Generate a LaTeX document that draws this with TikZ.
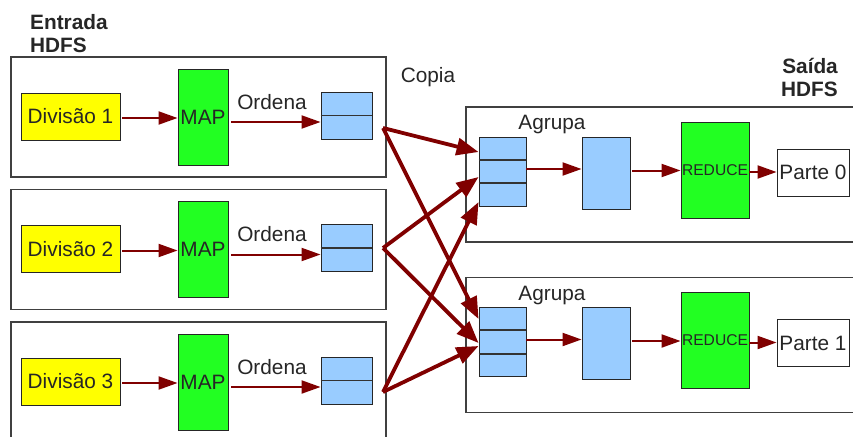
\documentclass[tikz,border=0pt]{standalone}
\usepackage{fontspec}
\setmainfont{Liberation Sans}
\usetikzlibrary{arrows.meta,positioning,calc}
\definecolor{Seta}{RGB}{128,0,0}
\definecolor{Amarelo}{RGB}{255,255,0}
\definecolor{Verde}{RGB}{34,255,34}
\definecolor{Azul}{RGB}{153,204,255}
\definecolor{Texto}{RGB}{38,38,38}
\tikzset{
  caixa/.style={draw=black!85,line width=0.9pt,inner sep=0pt,align=center,text=Texto},
  divisao/.style={caixa,fill=Amarelo,minimum width=99pt,minimum height=47pt},
  mapa/.style={caixa,fill=Verde,minimum width=50pt,minimum height=96pt},
  fila/.style={caixa,fill=Azul,minimum width=51pt,minimum height=47pt},
  grupo/.style={caixa,fill=Azul,minimum width=48pt,minimum height=72pt},
  reduz/.style={caixa,fill=Verde,minimum width=68pt,minimum height=96pt,font=\fontsize{15.6}{18}\selectfont},
  parte/.style={caixa,fill=white,minimum width=72pt,minimum height=47pt},
  divisor/.style={draw=black!80,line width=1.8pt},
  conjunto/.style={draw=black!75,line width=1.2pt},
  rotulo/.style={inner sep=0pt,text=Texto},
  titulo/.style={inner sep=0pt,text=Texto,font=\fontsize{20.8}{23}\selectfont\bfseries},
  seta/.style={-{Triangle[length=19pt,width=13pt]},Seta,line width=2pt},
  copia/.style={-{Triangle[length=22pt,width=17pt]},Seta,line width=3.8pt},
}

\begin{document}
\begin{tikzpicture}[x=1pt,y=-1pt,font=\fontsize{20.8}{23}\selectfont]
			\useasboundingbox (0,0) rectangle (853,436);
			\clip (0,0) rectangle (853,436);
			% Títulos
			\node[titulo,anchor=north west,align=left] (entrada) at (30,14.5) {Entrada\\HDFS};
			\node[titulo,anchor=north east,align=right] (saida) at (838,58.5) {Saída\\HDFS};
			\node[rotulo] (copia) at (428,77.5) {Copia};
			% Mapeadores
			\foreach \i/\y/\s in {1/117/128,2/249.5/248,3/382/392} {
					\draw[conjunto] (11,\y-60) rectangle (386,\y+60);
					\node[divisao] (div\i) at (70.5,\y-0.5) {Divisão \i};
					\node[mapa] (map\i) at (203,\y) {MAP};
					\node[fila] (buf\i) at (346.5,\y-1.5) {};
					\draw[divisor] (buf\i.west) -- (buf\i.east);
					\node[rotulo] (ord\i) at (272,\y-15) {Ordena};
					\draw[seta,shorten <=2pt] ([yshift=-1.5pt]div\i.east) -- ([yshift=-1.5pt]div\i.east -| map\i.west);
					\draw[seta,shorten <=3pt] ([yshift=-5pt]map\i.east) -- ([yshift=-5pt]map\i.east -| buf\i.west);
					\coordinate (sai\i) at (383,\s);
				}
			% Redutores
			\foreach \i/\y in {1/171.5,2/342} {
					\draw[conjunto] (466,\y-64.5) rectangle (870,\y+70.5);
					\node[fila,minimum width=47pt,minimum height=69pt] (rbuf\i) at (502.5,\y) {};
					\draw[divisor] ($(rbuf\i.north west)!1/3!(rbuf\i.south west)$) -- ($(rbuf\i.north east)!1/3!(rbuf\i.south east)$);
					\draw[divisor] ($(rbuf\i.north west)!2/3!(rbuf\i.south west)$) -- ($(rbuf\i.north east)!2/3!(rbuf\i.south east)$);
					\node[rotulo] (agr\i) at (552,\y-46.5) {Agrupa};
					\node[grupo] (grp\i) at (606,\y+1.5) {};
					\node[reduz] (red\i) at (715,\y-1.5) {REDUCE};
					\node[parte] (out\i) at (813,\y+1) {Parte \the\numexpr\i-1\relax};
					\draw[seta] ([yshift=2.5pt]rbuf\i.east) -- ([yshift=2.5pt]rbuf\i.east -| grp\i.west);
					\draw[seta,shorten <=2pt] ([yshift=2.5pt]grp\i.east) -- ([yshift=2.5pt]grp\i.east -| red\i.west);
					\draw[seta] ([yshift=-2pt]red\i.east) -- ([yshift=-2pt]red\i.east -| out\i.west);
				}
			% Cópia entre mapeadores e redutores
			\draw[copia] (sai1) -- ([yshift=19.5pt]rbuf1.west);
			\draw[copia] (sai1) -- ([yshift=23pt]rbuf2.west);
			\draw[copia] (sai2) -- ([yshift=-5.5pt]rbuf1.west);
			\draw[copia] (sai2) -- ([yshift=-1pt]rbuf2.west);
			\draw[copia] (sai3) -- ([yshift=-30.5pt]rbuf1.west);
			\draw[copia] (sai3) -- ([yshift=-4pt]rbuf2.west);
		\end{tikzpicture}
\end{document}
